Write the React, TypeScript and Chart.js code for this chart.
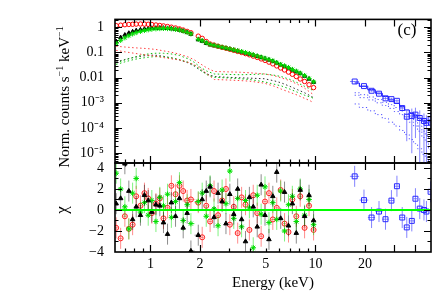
import React, { useEffect, useRef } from "react";
import { Chart, registerables } from "chart.js";

Chart.register(...registerables);

// ---------------- data ----------------
const energies = [0.62, 0.66, 0.70, 0.74, 0.78, 0.82, 0.87, 0.92, 0.97, 1.02, 1.08, 1.14, 1.20, 1.27, 1.34, 1.42, 1.50, 1.58, 1.67, 1.76, 1.95, 2.06, 2.18, 2.30, 2.43, 2.57, 2.72, 2.87, 3.03, 3.20, 3.38, 3.57, 3.77, 3.98, 4.20, 4.44, 4.69, 4.95, 5.23, 5.52, 5.83, 6.16, 6.50, 6.87, 7.25, 7.66, 8.09, 8.60, 9.15, 9.75];

const greenCounts = [0.23, 0.30, 0.38, 0.46, 0.54, 0.61, 0.68, 0.74, 0.79, 0.83, 0.86, 0.88, 0.89, 0.88, 0.86, 0.82, 0.77, 0.70, 0.62, 0.54, 0.33, 0.29, 0.24, 0.205, 0.19, 0.175, 0.16, 0.148, 0.137, 0.126, 0.116, 0.107, 0.098, 0.089, 0.080, 0.072, 0.065, 0.058, 0.052, 0.046, 0.039, 0.033, 0.029, 0.025, 0.021, 0.018, 0.015, 0.012, 0.0092, 0.0068];
const blackCounts = [0.27, 0.39, 0.49, 0.58, 0.66, 0.73, 0.79, 0.84, 0.88, 0.91, 0.92, 0.93, 0.92, 0.90, 0.87, 0.82, 0.77, 0.70, 0.62, 0.53, 0.32, 0.28, 0.23, 0.20, 0.185, 0.17, 0.156, 0.145, 0.134, 0.123, 0.113, 0.104, 0.095, 0.086, 0.078, 0.070, 0.063, 0.056, 0.050, 0.044, 0.038, 0.032, 0.028, 0.024, 0.020, 0.017, 0.0145, 0.0115, 0.0088, 0.0066];
const redCounts = [1.15, 1.20, 1.25, 1.28, 1.30, 1.32, 1.33, 1.32, 1.30, 1.27, 1.22, 1.17, 1.12, 1.06, 1.00, 0.93, 0.85, 0.77, 0.68, 0.60, 0.44, 0.36, 0.27, 0.215, 0.195, 0.175, 0.158, 0.145, 0.132, 0.120, 0.109, 0.099, 0.089, 0.080, 0.071, 0.063, 0.055, 0.048, 0.041, 0.035, 0.029, 0.024, 0.020, 0.0165, 0.0135, 0.011, 0.0088, 0.007, 0.0052, 0.0040];

const blackChi = [0.6, 1.1, 4.4, 1.8, -0.9, 0.3, -0.5, 1.4, 0.9, -0.2, 0.5, 0.4, -1.2, -2.3, 0.7, -0.6, 1.1, -1.7, -0.3, -3.9, -2.4, 1.0, 1.8, 2.2, -0.7, 1.6, 0.8, -1.3, 1.5, -0.4, 2.0, -0.9, -3.0, 1.2, 0.3, -1.6, 2.4, -0.5, -2.8, 1.3, 3.6, -0.8, 1.7, -1.5, 0.6, -2.2, 1.9, -0.6, 1.4, -1.0];
const redChi = [-1.7, -2.7, -0.6, -1.8, -1.4, 1.3, 0.4, 1.6, 1.1, -0.3, 0.6, 1.1, -0.8, 0.2, 2.3, 1.5, 2.3, 1.8, 0.9, 1.0, 0.7, -2.6, 0.4, -1.1, 1.8, -0.5, 0.9, 2.0, -1.4, 0.3, -2.2, 1.2, 0.5, -1.9, 1.4, -0.3, -2.5, 0.8, 1.6, -0.9, 0.2, 1.9, -1.3, -2.1, 1.0, -0.6, 1.3, -1.7, 0.4, -1.9];
const greenChi = [3.5, 2.0, 0.3, -1.8, 1.6, 3.0, -0.2, 0.7, -0.5, 0.9, -1.1, 1.2, 0.4, 1.5, -0.7, 0.8, 2.6, -1.0, 0.5, -1.3, 0.8, 1.6, -0.6, 2.3, 0.1, -1.5, 1.9, 0.6, 3.7, -0.8, 1.1, -1.6, 0.9, 0.2, -3.6, 1.4, -0.4, 2.2, -1.2, 0.7, -0.9, 1.8, -2.0, 0.5, 1.3, -1.1, 2.0, -0.5, 1.0, -1.4];

// model components (dotted)
const compEnergies = [0.62, 0.7, 0.8, 0.9, 1.0, 1.1, 1.2, 1.35, 1.5, 1.7, 1.85, 2.0, 2.2, 2.44, 3.0, 3.5, 4.0, 4.9, 5.6, 6.2, 7.0, 7.8, 8.6, 9.3, 9.75];
const redCompA = [0.175, 0.163, 0.152, 0.145, 0.138, 0.128, 0.115, 0.1, 0.085, 0.065, 0.05, 0.036, 0.024, 0.0175, 0.0168, 0.0163, 0.0155, 0.014, 0.012, 0.0098, 0.0075, 0.0054, 0.0038, 0.0026, 0.0021];
const redCompB = [0.12, 0.105, 0.092, 0.082, 0.075, 0.068, 0.062, 0.055, 0.05, 0.04, 0.032, 0.024, 0.014, 0.0084, 0.008, 0.0076, 0.0072, 0.006, 0.0046, 0.0035, 0.0026, 0.002, 0.0015, 0.0012, 0.001];
const greenCompA = [0.038, 0.05, 0.065, 0.079, 0.09, 0.093, 0.092, 0.086, 0.075, 0.055, 0.04, 0.026, 0.018, 0.0139, 0.0133, 0.013, 0.0132, 0.0139, 0.0125, 0.011, 0.0085, 0.0062, 0.0045, 0.0035, 0.003];
const greenCompB = [0.033, 0.042, 0.053, 0.06, 0.066, 0.068, 0.067, 0.06, 0.052, 0.04, 0.03, 0.02, 0.013, 0.0103, 0.0096, 0.009, 0.0084, 0.0068, 0.0055, 0.0047, 0.0035, 0.0026, 0.002, 0.0017, 0.0015];
const blackComp = [0.042, 0.052, 0.064, 0.072, 0.078, 0.076, 0.07, 0.06, 0.05, 0.038, 0.028, 0.02, 0.014, 0.011, 0.0102, 0.0098, 0.0095, 0.009, 0.0075, 0.0062, 0.0045, 0.0033, 0.0025, 0.0019, 0.0016];

// hard X-ray (blue)
const pinEnergies = [17.3, 19.7, 21.9, 24.3, 26.6, 28.9, 31.2, 33.6, 35.8, 38.4, 40.4, 42.9, 45.5, 47.1, 49.9];
const pinHalfWidth = [1.1, 1.2, 1.1, 1.2, 1.2, 1.1, 1.2, 1.2, 1.1, 1.3, 1.0, 1.2, 1.3, 0.9, 1.3];
const pinCounts = [0.0070, 0.0046, 0.0030, 0.0023, 0.0015, 0.0014, 0.0012, 0.00062, 0.00028, 0.00030, 0.00034, 0.00025, 0.00019, 0.00016, 0.00022];
const pinErr = [0.0003, 0.00026, 0.00022, 0.0002, 0.00018, 0.00017, 0.00016, 0.00018, 0.00025, 0.00029, 0.0003, 0.00025, 0.00019, 0.00016, 0.0002];
const pinModel = [0.0061, 0.0045, 0.0033, 0.0024, 0.0018, 0.0013, 0.00095, 0.0007, 0.00052, 0.0004, 0.00031, 0.00024, 0.00019, 0.00016, 0.00013];
const pinComp1 = [0.0025, 0.0021, 0.0017, 0.00135, 0.00105, 0.00085, 0.00065, 0.0005, 0.00037, 0.00026, 0.00019, 0.00012, 0.000075, 0.00005, 0.000025];
const pinComp2 = [0.0020, 0.0016, 0.0013, 0.001, 0.00078, 0.0006, 0.00045, 0.00034, 0.00025, 0.00017, 0.00012, 0.000075, 0.000042, 0.000028, 0.000014];
const pinComp3 = [0.0009, 0.00065, 0.00048, 0.00034, 0.00024, 0.00017, 0.00012, 0.00008, 0.000055, 0.000035, 0.000024, 0.000015, 0.000009, 0.0000065, 0.000004];
const pinChi = [3.2, 0.94, -0.72, -0.15, -0.88, 0.89, 2.26, -0.72, -1.66, -1.04, 1.07, 0.13, 0.0, -0.15, 1.73];

// axes
const xTickValues = [1, 2, 5, 10, 20];
const xTickLabels = ["1", "2", "5", "10", "20"];
const yMainTickValues = [1e-5, 1e-4, 1e-3, 0.01, 0.1, 1];
const yMainTickLabels = ["10⁻⁵", "10⁻⁴", "10⁻³", "0.01", "0.1", "1"];
const chiTickValues = [-4, -2, 0, 2, 4];
const chiTickLabels = ["−4", "−2", "0", "2", "4"];

const X_MIN = 0.61, X_MAX = 50.2;
const Y_MIN = 4.1e-6, Y_MAX = 2.03;
const CHI_MIN = -4, CHI_MAX = 4.47;

const FONT = "'Liberation Serif', 'Times New Roman', serif";

// ---------------- helpers ----------------
const pts = (xs: number[], ys: number[]) => xs.map((x, i) => ({ x, y: ys[i] }));
const binLo = (es: number[]) => es.map((e, i) => (i > 0 ? Math.sqrt(es[i - 1] * e) : (e * e) / Math.sqrt(e * es[i + 1])));
const binHi = (es: number[]) => es.map((e, i) => (i < es.length - 1 ? Math.sqrt(es[i + 1] * e) : (e * e) / Math.sqrt(e * es[i - 1])));
const xisLo = binLo(energies);
const xisHi = binHi(energies);

function logMinor(min: number, max: number) {
  const out: number[] = [];
  for (let d = -7; d <= 1; d++) for (let m = 2; m <= 9; m++) {
    const v = m * Math.pow(10, d);
    if (v > min && v < max) out.push(v);
  }
  return out;
}
function logMajor(min: number, max: number) {
  const out: number[] = [];
  for (let d = -7; d <= 1; d++) { const v = Math.pow(10, d); if (v >= min && v <= max) out.push(v); }
  return out;
}
const xMajorTicks = [1, 2, 10, 20, 30, 40];
const xMinorTicks = [0.7, 0.8, 0.9, 3, 4, 5, 6, 7, 8, 9, 50];

const errorBarPlugin = {
  id: "errbars",
  beforeDatasetDraw(chart: any, args: any) {
    const ds: any = chart.data.datasets[args.index];
    const eb = ds.errorBars;
    if (!eb) return;
    const { ctx, chartArea: a, scales } = chart;
    const xs = scales.x, ys = scales.y;
    const isLog = ys.type === "logarithmic";
    const py = (v: number) => (isLog && v <= 0 ? a.bottom + 10 : ys.getPixelForValue(v));
    ctx.save();
    ctx.beginPath();
    ctx.rect(a.left, a.top, a.right - a.left, a.bottom - a.top);
    ctx.clip();
    ctx.strokeStyle = eb.color;
    ctx.lineWidth = eb.width || 1;
    ctx.beginPath();
    ds.data.forEach((p: any, i: number) => {
      const x = xs.getPixelForValue(p.x);
      const y = ys.getPixelForValue(p.y);
      ctx.moveTo(x, py(eb.ylo[i]));
      ctx.lineTo(x, py(eb.yhi[i]));
      ctx.moveTo(xs.getPixelForValue(eb.xlo[i]), y);
      ctx.lineTo(xs.getPixelForValue(eb.xhi[i]), y);
    });
    ctx.stroke();
    ctx.restore();
  },
};

function framePlugin(id: string, yMajor: number[], yMinor: number[], drawText: (ctx: any, chart: any) => void) {
  return {
    id,
    afterDraw(chart: any) {
      const { ctx, chartArea: a, scales } = chart;
      const xs = scales.x, ys = scales.y;
      ctx.save();
      ctx.strokeStyle = "#000";
      ctx.lineWidth = 1.2;
      ctx.beginPath();
      const xt = (vals: number[], len: number) => vals.forEach((v) => {
        const px = Math.round(xs.getPixelForValue(v)) + 0.5;
        if (px < a.left || px > a.right) return;
        ctx.moveTo(px, a.top); ctx.lineTo(px, a.top + len);
        ctx.moveTo(px, a.bottom); ctx.lineTo(px, a.bottom - len);
      });
      const yt = (vals: number[], len: number) => vals.forEach((v) => {
        const py = Math.round(ys.getPixelForValue(v)) + 0.5;
        if (py < a.top || py > a.bottom) return;
        ctx.moveTo(a.left, py); ctx.lineTo(a.left + len, py);
        ctx.moveTo(a.right, py); ctx.lineTo(a.right - len, py);
      });
      xt(xMajorTicks, 7); xt(xMinorTicks, 3.5);
      yt(yMajor, 7); yt(yMinor, 3.5);
      ctx.stroke();
      ctx.lineWidth = 1.6;
      ctx.strokeRect(a.left, a.top, a.right - a.left, a.bottom - a.top);
      ctx.fillStyle = "#000";
      drawText(ctx, chart);
      ctx.restore();
    },
  };
}

function drawMainTitle(ctx: any) {
  const big = `15px ${FONT}`, small = `10px ${FONT}`;
  const parts: [string, string, number][] = [["Norm. counts s", big, 0], ["−1", small, -5], [" keV", big, 0], ["−1", small, -5]];
  let total = 0;
  parts.forEach(([t, f]) => { ctx.font = f; total += ctx.measureText(t).width; });
  ctx.save();
  ctx.translate(65, 97);
  ctx.rotate(-Math.PI / 2);
  ctx.textBaseline = "middle";
  ctx.textAlign = "left";
  let x = -total / 2;
  parts.forEach(([t, f, dy]) => { ctx.font = f; ctx.fillText(t, x, dy); x += ctx.measureText(t).width; });
  ctx.restore();
  ctx.font = `17px ${FONT}`;
  ctx.textAlign = "center";
  ctx.textBaseline = "middle";
  ctx.fillText("(c)", 407, 31);
}

function drawChiTitle(ctx: any) {
  ctx.save();
  ctx.translate(63, 210);
  ctx.rotate(-Math.PI / 2);
  ctx.font = `17px ${FONT}`;
  ctx.textAlign = "center";
  ctx.textBaseline = "middle";
  ctx.fillText("χ", 0, 0);
  ctx.restore();
}

const labelFor = (vals: number[], labels: string[], v: number, log: boolean) => {
  const i = vals.findIndex((t) => (log ? Math.abs(Math.log10(t) - Math.log10(v)) < 1e-6 : Math.abs(t - v) < 1e-9));
  return i >= 0 ? labels[i] : "";
};

const pointLine = { pointRadius: 0, pointHoverRadius: 0, showLine: true, fill: false };

function buildTop(): any {
  const dotted = (xs: number[], ys: number[], color: string, order: number, dash = [1.5, 2.5], stepped: any = false) => ({
    data: pts(xs, ys), borderColor: color, borderWidth: 1, borderDash: dash, order, stepped, ...pointLine,
  });
  return {
    type: "scatter",
    data: {
      datasets: [
        { data: pts(energies, greenCounts), pointStyle: "star", pointRadius: 2.6, borderColor: "#00e000", backgroundColor: "#00e000", borderWidth: 1, order: 1 },
        { data: pts(energies, redCounts), pointStyle: "circle", pointRadius: 2.2, borderColor: "#ff0000", backgroundColor: "rgba(0,0,0,0)", borderWidth: 1, order: 2 },
        { data: pts(energies, blackCounts), pointStyle: "triangle", pointRadius: 2.4, borderColor: "#000", backgroundColor: "#000", borderWidth: 1, order: 3 },
        {
          data: pts(pinEnergies, pinCounts), pointStyle: "rect", pointRadius: 3.5, borderColor: "#2a2aff", backgroundColor: "rgba(0,0,0,0)", borderWidth: 1, order: 4,
          errorBars: {
            color: "rgba(90,90,255,0.75)",
            xlo: pinEnergies.map((e, i) => e - pinHalfWidth[i]), xhi: pinEnergies.map((e, i) => e + pinHalfWidth[i]),
            ylo: pinCounts.map((v, i) => v - pinErr[i]), yhi: pinCounts.map((v, i) => v + pinErr[i]),
          },
        },
        { data: pts(pinEnergies, pinModel), borderColor: "#0000ff", borderWidth: 1, stepped: "middle", order: 5, ...pointLine },
        dotted(pinEnergies, pinComp1, "#5050ff", 6, [1.2, 2.5], "middle"),
        dotted(pinEnergies, pinComp2, "#5050ff", 6, [1.2, 2.5], "middle"),
        dotted(pinEnergies, pinComp3, "#5050ff", 6, [1.2, 2.5], "middle"),
        dotted(compEnergies, redCompA, "#ff4040", 7),
        dotted(compEnergies, redCompB, "#ff4040", 7),
        dotted(compEnergies, greenCompA, "#10c010", 7),
        dotted(compEnergies, greenCompB, "#10c010", 7),
        dotted(compEnergies, blackComp, "#333", 8),
      ],
    },
    options: {
      animation: false, responsive: false, devicePixelRatio: 1,
      layout: { padding: { left: 0, right: 3, top: 15, bottom: 129 } },
      plugins: { legend: { display: false }, tooltip: { enabled: false } },
      scales: {
        x: { type: "logarithmic", min: X_MIN, max: X_MAX, bounds: "data", display: false },
        y: {
          type: "logarithmic", min: Y_MIN, max: Y_MAX, bounds: "data",
          grid: { display: false, drawTicks: false }, border: { display: false },
          afterBuildTicks: (s: any) => { s.ticks = yMainTickValues.map((value) => ({ value })); },
          afterFit: (s: any) => { s.width = 115; },
          ticks: {
            autoSkip: false, padding: 11, color: "#000", font: { family: FONT, size: 14 },
            callback: (v: any) => labelFor(yMainTickValues, yMainTickLabels, Number(v), true),
          },
        },
      },
    },
    plugins: [errorBarPlugin, framePlugin("frameTop", logMajor(Y_MIN, Y_MAX), logMinor(Y_MIN, Y_MAX), (ctx) => drawMainTitle(ctx))],
  };
}

function buildBottom(): any {
  const chiErr = (chi: number[]) => ({ ylo: chi.map((r) => r - 1), yhi: chi.map((r) => r + 1) });
  return {
    type: "scatter",
    data: {
      datasets: [
        { data: [{ x: X_MIN, y: 0 }, { x: X_MAX, y: 0 }], borderColor: "#00ff00", borderWidth: 2, order: 0, ...pointLine },
        {
          data: pts(energies, blackChi), pointStyle: "triangle", pointRadius: 2.6, borderColor: "#000", backgroundColor: "#000", borderWidth: 1, order: 1,
          errorBars: { color: "rgba(0,0,0,0.45)", xlo: xisLo, xhi: xisHi, ...chiErr(blackChi) },
        },
        {
          data: pts(energies, greenChi), pointStyle: "star", pointRadius: 2.8, borderColor: "#00e000", backgroundColor: "#00e000", borderWidth: 1, order: 2,
          errorBars: { color: "rgba(0,230,0,0.5)", xlo: xisLo, xhi: xisHi, ...chiErr(greenChi) },
        },
        {
          data: pts(energies, redChi), pointStyle: "circle", pointRadius: 2.5, borderColor: "#ff2020", backgroundColor: "rgba(0,0,0,0)", borderWidth: 1, order: 3,
          errorBars: { color: "rgba(255,0,0,0.45)", xlo: xisLo, xhi: xisHi, ...chiErr(redChi) },
        },
        {
          data: pts(pinEnergies, pinChi), pointStyle: "rect", pointRadius: 3.5, borderColor: "#2a2aff", backgroundColor: "rgba(0,0,0,0)", borderWidth: 1, order: 4,
          errorBars: {
            color: "rgba(90,90,255,0.75)",
            xlo: pinEnergies.map((e, i) => e - pinHalfWidth[i]), xhi: pinEnergies.map((e, i) => e + pinHalfWidth[i]),
            ...chiErr(pinChi),
          },
        },
      ],
    },
    options: {
      animation: false, responsive: false, devicePixelRatio: 1,
      layout: { padding: { left: 0, right: 3, top: 163, bottom: 0 } },
      plugins: { legend: { display: false }, tooltip: { enabled: false } },
      scales: {
        x: {
          type: "logarithmic", min: X_MIN, max: X_MAX, bounds: "data",
          grid: { display: false, drawTicks: false }, border: { display: false },
          afterBuildTicks: (s: any) => { s.ticks = xTickValues.map((value) => ({ value })); },
          afterFit: (s: any) => { s.height = 40; },
          ticks: {
            autoSkip: false, maxRotation: 0, padding: 4, color: "#000", font: { family: FONT, size: 14 },
            callback: (v: any) => labelFor(xTickValues, xTickLabels, Number(v), true),
          },
          title: { display: true, text: "Energy (keV)", color: "#000", font: { family: FONT, size: 15 }, padding: { top: 0, bottom: 0 } },
        },
        y: {
          type: "linear", min: CHI_MIN, max: CHI_MAX, bounds: "data",
          grid: { display: false, drawTicks: false }, border: { display: false },
          afterBuildTicks: (s: any) => { s.ticks = chiTickValues.map((value) => ({ value })); },
          afterFit: (s: any) => { s.width = 115; },
          ticks: {
            autoSkip: false, padding: 11, color: "#000", font: { family: FONT, size: 14 },
            callback: (v: any) => labelFor(chiTickValues, chiTickLabels, Number(v), false),
          },
        },
      },
    },
    plugins: [errorBarPlugin, framePlugin("frameBottom", [-4, -2, 0, 2, 4], [-3, -1, 1, 3], (ctx) => drawChiTitle(ctx))],
  };
}

export default function App() {
  const topRef = useRef<HTMLCanvasElement>(null);
  const botRef = useRef<HTMLCanvasElement>(null);
  useEffect(() => {
    const bottom = new Chart(botRef.current as HTMLCanvasElement, buildBottom());
    const top = new Chart(topRef.current as HTMLCanvasElement, buildTop());
    return () => { top.destroy(); bottom.destroy(); };
  }, []);
  const cs: React.CSSProperties = { position: "absolute", left: 0, top: 0, width: 436, height: 292 };
  return (
    <div style={{ position: "fixed", left: 0, top: 0, width: 436, height: 292, background: "#fff" }}>
      <canvas ref={botRef} width={436} height={292} style={cs} />
      <canvas ref={topRef} width={436} height={292} style={cs} />
    </div>
  );
}
